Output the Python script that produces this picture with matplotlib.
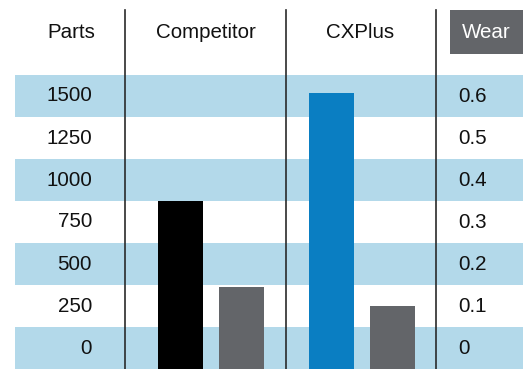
import matplotlib
matplotlib.use("Agg")
import matplotlib.pyplot as plt
from matplotlib.patches import Rectangle
from matplotlib.transforms import blended_transform_factory

plt.rcParams['font.family'] = ['Liberation Sans', 'DejaVu Sans']

# Data
groups = ["Competitor", "CXPlus"]
parts = [875, 1520]
wear = [0.145, 0.10]
parts_ticks = [0, 250, 500, 750, 1000, 1250, 1500]
wear_ticks = [0, 0.1, 0.2, 0.3, 0.4, 0.5, 0.6]
wear_tick_labels = ["0", "0.1", "0.2", "0.3", "0.4", "0.5", "0.6"]

# Colours
BAND = "#b3d9ea"
PARTS_COLORS = ["#000000", "#0a7ec2"]
WEAR_COLOR = "#636569"
LINE = "#2a2a2a"
FS = 14.8

W, H = 525, 369
fig = plt.figure(figsize=(W / 100, H / 100), dpi=100)

# Table body: x axis measured in pixels, rows of 250 parts centred on ticks
left, right, top = 15, 523, 75
ax = fig.add_axes([left / W, 0, (right - left) / W, (H - top) / H])
ax.set_xlim(left, right)
p_step = parts_ticks[1] - parts_ticks[0]
ax.set_ylim(parts_ticks[0] - p_step / 2, parts_ticks[-1] + p_step / 2)
ax.axis("off")

ax2 = ax.twinx()
w_step = wear_ticks[1] - wear_ticks[0]
ax2.set_ylim(wear_ticks[0] - w_step / 2, wear_ticks[-1] + w_step / 2)
ax2.set_xlim(left, right)
ax2.axis("off")

# Alternating bands
for i, t in enumerate(parts_ticks):
    if i % 2 == 0:
        ax.axhspan(t - p_step / 2, t + p_step / 2, color=BAND, lw=0, zorder=0)

# Bars
group_centers = [211, 361.5]
offset = 30.5
bar_w = 45
p_base = ax.get_ylim()[0]
w_base = ax2.get_ylim()[0]
for gc, pv, wv, pc in zip(group_centers, parts, wear, PARTS_COLORS):
    ax.bar(gc - offset, pv - p_base, bottom=p_base, width=bar_w, color=pc, zorder=2)
    ax2.bar(gc + offset, wv - w_base, bottom=w_base, width=bar_w, color=WEAR_COLOR, zorder=2)

# Row labels
for t in parts_ticks:
    ax.text(92, t, f"{t}", ha="right", va="center", fontsize=FS, color="#111111")
for t, lab in zip(wear_ticks, wear_tick_labels):
    ax2.text(458, t, lab, ha="left", va="center", fontsize=FS, color="#111111")

# Column separators, running up into the header
trans = blended_transform_factory(ax.transData, fig.transFigure)
for x in [124.5, 286, 435.5]:
    ax.plot([x, x], [0, 1 - 10 / H], transform=trans, color=LINE, lw=1.2,
            clip_on=False, zorder=3)

# Header
hy = 1 - 33 / H
for x, label in [(71, "Parts"), (206, "Competitor"), (360, "CXPlus")]:
    ax.text(x, hy, label, transform=trans, ha="center", va="center",
            fontsize=FS, color="#111111")
ax.add_patch(Rectangle((450, 1 - 54 / H), 73, 44 / H, transform=trans,
                       facecolor=WEAR_COLOR, edgecolor="none", clip_on=False))
ax.text(486.5, hy, "Wear", transform=trans, ha="center", va="center",
        fontsize=FS, color="white")

fig.savefig("out.png", dpi=100)
